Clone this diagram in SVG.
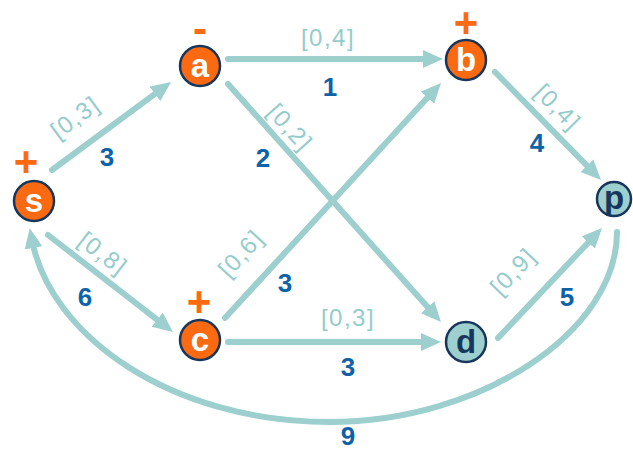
<svg xmlns="http://www.w3.org/2000/svg" width="633" height="450" viewBox="0 0 633 450">
<style>
.edge{fill:none;stroke:#9dcfcf;stroke-width:6;stroke-linecap:round;marker-end:url(#arr)}
.cap{font-family:"Liberation Sans",Arial,sans-serif;font-size:24px;fill:#94cccc;letter-spacing:1.5px;text-anchor:middle}
.num{font-family:"Liberation Sans",Arial,sans-serif;font-size:26px;font-weight:bold;fill:#0d62a8;text-anchor:middle}
.on{fill:#fb6a10;stroke:#16365c;stroke-width:2.5}
.off{fill:#9dcfcf;stroke:#16365c;stroke-width:2.5}
.lw{font-family:"Liberation Sans",Arial,sans-serif;font-size:33px;font-weight:bold;fill:#ffffff;text-anchor:middle}
.ld{font-family:"Liberation Sans",Arial,sans-serif;font-size:33px;font-weight:bold;fill:#16365c;text-anchor:middle}
.sign{font-family:"Liberation Sans",Arial,sans-serif;font-size:42px;font-weight:bold;fill:#fb6a10;text-anchor:middle}
</style>
<defs>
<marker id="arr" markerUnits="userSpaceOnUse" markerWidth="22" markerHeight="20" refX="8" refY="9" orient="auto">
<path d="M0,0 L20,9 L0,18 z" fill="#9dcfcf"/>
</marker>
</defs>
<rect width="633" height="450" fill="#ffffff"/>
<g id="connectors">
<line class="edge" x1="52" y1="170" x2="161.4" y2="89.1"/>
<line class="edge" x1="228" y1="59" x2="431" y2="59"/>
<line class="edge" x1="228" y1="84" x2="433" y2="313.1"/>
<line class="edge" x1="225" y1="318" x2="432.9" y2="91.8"/>
<line class="edge" x1="495" y1="72" x2="592.6" y2="171.4"/>
<line class="edge" x1="48" y1="235" x2="163.5" y2="324.6"/>
<line class="edge" x1="228" y1="342" x2="429" y2="342"/>
<line class="edge" x1="498" y1="338" x2="593.8" y2="236.7"/>
<path class="edge" d="M617,232 C617,332 480,422 330,422 C170,422 50,335 32,240"/>
<text class="cap" transform="translate(80,124) rotate(-36.5)">[0,3]</text>
<text class="num" x="107" y="166">3</text>
<text class="cap" x="328" y="46">[0,4]</text>
<text class="num" x="330" y="96">1</text>
<text class="cap" transform="translate(284,133) rotate(48.2)">[0,2]</text>
<text class="num" x="263" y="167">2</text>
<text class="cap" transform="translate(247,259) rotate(-47.4)">[0,6]</text>
<text class="num" x="285" y="292">3</text>
<text class="cap" transform="translate(98,260) rotate(37.8)">[0,8]</text>
<text class="num" x="85" y="306">6</text>
<text class="cap" transform="translate(552,113) rotate(45.5)">[0,4]</text>
<text class="num" x="537" y="152">4</text>
<text class="cap" transform="translate(519,277) rotate(-46.6)">[0,9]</text>
<text class="num" x="567" y="306">5</text>
<text class="cap" x="348" y="326">[0,3]</text>
<text class="num" x="348" y="376">3</text>
<text class="num" x="348" y="445">9</text>
</g>
<g id="node-s">
<circle class="on" cx="34" cy="201" r="20"/>
<text class="lw" x="34" y="212">s</text>
<text class="sign" x="26" y="176">+</text>
</g>
<g id="node-a">
<circle class="on" cx="200" cy="66" r="20"/>
<text class="lw" x="200" y="77">a</text>
<text class="sign" x="200" y="43">-</text>
</g>
<g id="node-b">
<circle class="on" cx="466" cy="60" r="20"/>
<text class="lw" x="466" y="71">b</text>
<text class="sign" x="466" y="37">+</text>
</g>
<g id="node-c">
<circle class="on" cx="200" cy="340" r="20"/>
<text class="lw" x="200" y="351">c</text>
<text class="sign" x="199" y="316">+</text>
</g>
<g id="node-d">
<circle class="off" cx="466" cy="342" r="20"/>
<text class="ld" x="466" y="353">d</text>
</g>
<g id="node-p">
<circle class="off" cx="614" cy="199" r="17"/>
<text class="ld" x="614" y="209">p</text>
</g>
</svg>
